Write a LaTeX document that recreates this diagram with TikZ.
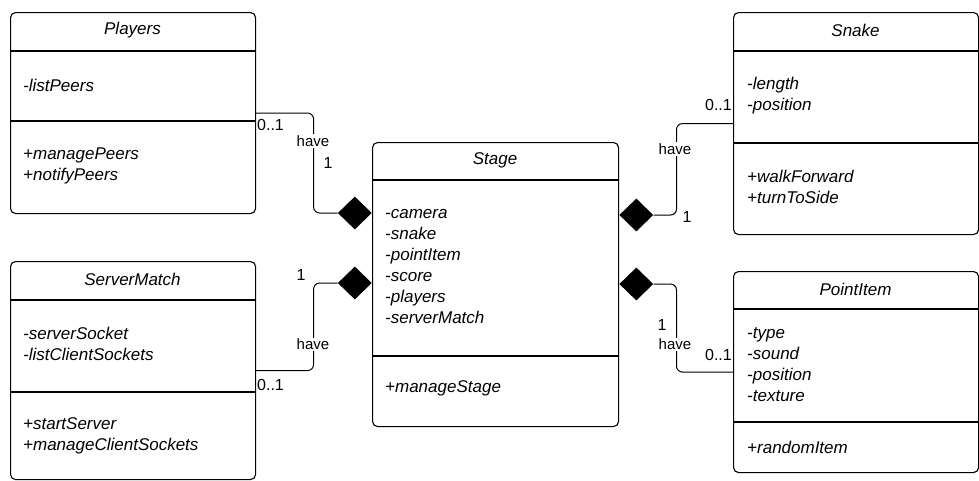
\documentclass[tikz,border=0pt]{standalone}
\usepackage{fontspec}
\setmainfont{Liberation Sans}
\usetikzlibrary{shapes.geometric}

\begin{document}
\begin{tikzpicture}[x=1pt,y=-1pt,
    classbox/.style={draw,rounded corners=5pt,line width=1.1pt,anchor=north west,inner sep=0pt},
    divider/.style={line width=1.1pt},
    classname/.style={inner sep=0pt,font=\fontsize{17}{21}\selectfont\itshape},
    members/.style={anchor=west,align=left,inner sep=0pt,font=\fontsize{17}{21}\selectfont\itshape},
    comp/.style={diamond,fill=black,inner sep=0pt,minimum width=34pt,minimum height=33pt},
    assoc/.style={line width=1pt,rounded corners=6pt},
    role/.style={fill=white,inner sep=1pt,font=\fontsize{15}{17}\selectfont},
    mult/.style={inner sep=0pt,font=\fontsize{16}{19}\selectfont}]
    \useasboundingbox (0,0) rectangle (979,480);

    % class boxes
    \node[classbox,minimum width=245pt,minimum height=201pt] (players) at (10,12) {};
    \node[classbox,minimum width=245pt,minimum height=218pt] (servermatch) at (10,261) {};
    \node[classbox,minimum width=246pt,minimum height=284pt] (stage) at (372,142) {};
    \node[classbox,minimum width=245pt,minimum height=222pt] (snake) at (733,12) {};
    \node[classbox,minimum width=245pt,minimum height=201pt] (pointitem) at (733,271) {};

    \draw[divider] ([yshift=-39pt]players.north west) -- ([yshift=-39pt]players.north east);
    \draw[divider] ([yshift=-109pt]players.north west) -- ([yshift=-109pt]players.north east);
    \draw[divider] ([yshift=-39pt]servermatch.north west) -- ([yshift=-39pt]servermatch.north east);
    \draw[divider] ([yshift=-131pt]servermatch.north west) -- ([yshift=-131pt]servermatch.north east);
    \draw[divider] ([yshift=-38pt]stage.north west) -- ([yshift=-38pt]stage.north east);
    \draw[divider] ([yshift=-214pt]stage.north west) -- ([yshift=-214pt]stage.north east);
    \draw[divider] ([yshift=-39pt]snake.north west) -- ([yshift=-39pt]snake.north east);
    \draw[divider] ([yshift=-131pt]snake.north west) -- ([yshift=-131pt]snake.north east);
    \draw[divider] ([yshift=-38pt]pointitem.north west) -- ([yshift=-38pt]pointitem.north east);
    \draw[divider] ([yshift=-151pt]pointitem.north west) -- ([yshift=-151pt]pointitem.north east);

    % names and members
    \node[classname] (players-name) at (132.5,30) {Players};
    \node[members] (players-attr) at (23,85) {-listPeers};
    \node[members] (players-ops) at (23,165.5) {+managePeers\\+notifyPeers};

    \node[classname] (servermatch-name) at (132.5,279) {ServerMatch};
    \node[members] (servermatch-attr) at (23,344) {-serverSocket\\-listClientSockets};
    \node[members] (servermatch-ops) at (23,435.5) {+startServer\\+manageClientSockets};

    \node[classname] (stage-name) at (495,160) {Stage};
    \node[members] (stage-attr) at (385,266.5) {-camera\\-snake\\-pointItem\\-score\\-players\\-serverMatch};
    \node[members] (stage-ops) at (385,388) {+manageStage};

    \node[classname] (snake-name) at (855.5,30) {Snake};
    \node[members] (snake-attr) at (747,95.5) {-length\\-position};
    \node[members] (snake-ops) at (747,186.5) {+walkForward\\+turnToSide};

    \node[classname] (pointitem-name) at (855.5,289) {PointItem};
    \node[members] (pointitem-attr) at (747,365) {-type\\-sound\\-position\\-texture};
    \node[members] (pointitem-ops) at (747,447) {+randomItem};

    % compositions
    \node[comp,anchor=east] (d-players) at ([yshift=-71pt]stage.north west) {};
    \node[comp,anchor=east] (d-servermatch) at ([yshift=-141pt]stage.north west) {};
    \node[comp,anchor=west] (d-snake) at ([yshift=-73pt]stage.north east) {};
    \node[comp,anchor=west] (d-pointitem) at ([yshift=-142pt]stage.north east) {};

    \draw[assoc] (players.east) -| ([xshift=-24pt]d-players.west) -- (d-players.west);
    \draw[assoc] (servermatch.east) -| ([xshift=-24pt]d-servermatch.west) -- (d-servermatch.west);
    \draw[assoc] (snake.west) -| ([xshift=23pt]d-snake.east) -- (d-snake.east);
    \draw[assoc] (pointitem.west) -| ([xshift=23pt]d-pointitem.east) -- (d-pointitem.east);

    \node[role] (have-players) at (313,141) {have};
    \node[role] (have-servermatch) at (313,344) {have};
    \node[role] (have-snake) at (675,149) {have};
    \node[role] (have-pointitem) at (675,344) {have};

    \node[mult,anchor=west] (m-players-a) at (257,125) {0..1};
    \node[mult] (m-players-b) at (328,163) {1};
    \node[mult] (m-servermatch-b) at (301,275) {1};
    \node[mult,anchor=west] (m-servermatch-a) at (257,385) {0..1};
    \node[mult,anchor=east] (m-snake-a) at (732,105) {0..1};
    \node[mult] (m-snake-b) at (687,217) {1};
    \node[mult] (m-pointitem-b) at (662,325) {1};
    \node[mult,anchor=east] (m-pointitem-a) at (732,355) {0..1};
\end{tikzpicture}
\end{document}
